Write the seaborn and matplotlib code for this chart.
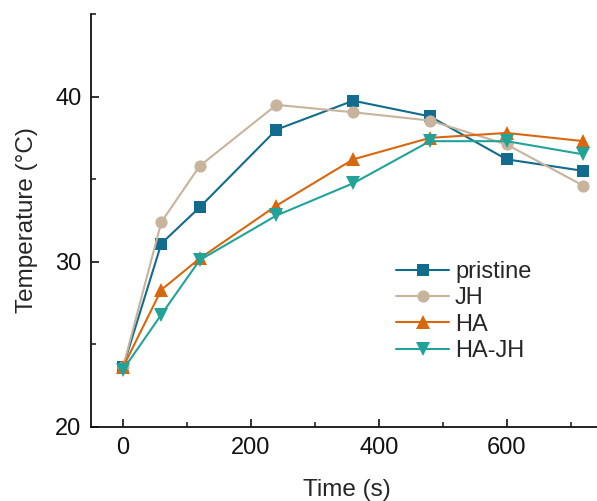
import numpy as np
import pandas as pd
import matplotlib
matplotlib.use("Agg")
import matplotlib.pyplot as plt
import seaborn as sns
from matplotlib.ticker import MultipleLocator

# data
time_s = [0, 60, 120, 240, 360, 480, 600, 720]
pristine = [23.6, 31.1, 33.3, 38.0, 39.75, 38.8, 36.2, 35.5]
jh = [23.6, 32.4, 35.8, 39.5, 39.05, 38.55, 37.1, 34.6]
ha = [23.6, 28.3, 30.2, 33.4, 36.2, 37.5, 37.8, 37.3]
ha_jh = [23.45, 26.8, 30.1, 32.8, 34.75, 37.3, 37.3, 36.5]

series = ["pristine", "JH", "HA", "HA-JH"]
colors = ["#136b8d", "#c8b39d", "#d8680f", "#21a39a"]
markers = ["s", "o", "^", "v"]
msizes = [8.2, 8.8, 10, 10]

df = pd.DataFrame({
    "Time (s)": time_s * 4,
    "Temperature": pristine + jh + ha + ha_jh,
    "sample": np.repeat(series, len(time_s)),
})

sns.set_style("ticks")
plt.rcParams["font.family"] = ["Liberation Sans", "DejaVu Sans"]

fig = plt.figure(figsize=(5.97, 5.01), dpi=100)
ax = fig.add_axes([0.1524, 0.148, 0.857, 0.824])

sns.lineplot(data=df, x="Time (s)", y="Temperature", hue="sample", style="sample",
             palette=dict(zip(series, colors)), markers=dict(zip(series, markers)),
             dashes=False, markersize=9, markeredgewidth=0, linewidth=1.5, ax=ax,
             legend=False)

lines = ax.lines[:4]
for ln, ms in zip(lines, msizes):
    ln.set_markersize(ms)

ax.set_xlim(-50, 750)
ax.set_ylim(20, 45)
ax.xaxis.set_major_locator(MultipleLocator(200))
ax.xaxis.set_minor_locator(MultipleLocator(100))
ax.yaxis.set_major_locator(MultipleLocator(10))
ax.yaxis.set_minor_locator(MultipleLocator(5))
ax.tick_params(which="major", direction="in", length=6, width=1.2, labelsize=17, pad=7,
               colors="#111111")
ax.tick_params(which="minor", direction="in", length=3.5, width=1.2)
for s in ["top", "right"]:
    ax.spines[s].set_visible(False)
for s in ["left", "bottom"]:
    ax.spines[s].set_linewidth(1.3)
    ax.spines[s].set_color("#111111")

ax.set_xlabel("Time (s)", fontsize=17.5, labelpad=15)
ax.set_ylabel("Temperature (°C)", fontsize=17.5, labelpad=12)

ax.legend(lines, series, loc="upper left", bbox_to_anchor=(0.6476, 0.4978),
          bbox_transform=fig.transFigure, borderaxespad=0, frameon=False, fontsize=17,
          handlelength=2.25, handletextpad=0.25, labelspacing=0.18)

fig.savefig("out.png", dpi=100)
